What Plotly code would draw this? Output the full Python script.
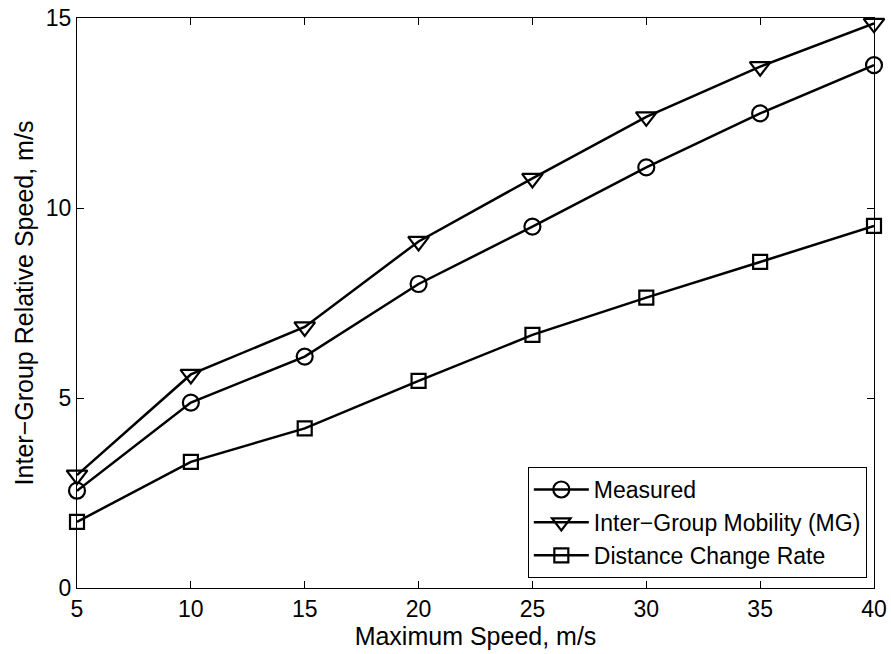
import plotly.graph_objects as go

speeds = [5, 10, 15, 20, 25, 30, 35, 40]
measured = [2.56, 4.88, 6.09, 8.0, 9.51, 11.07, 12.49, 13.76]
mg_model = [2.97, 5.62, 6.87, 9.12, 10.78, 12.40, 13.72, 14.86]
dcr = [1.74, 3.32, 4.20, 5.45, 6.66, 7.64, 8.58, 9.53]

series = [
    ("Measured", measured, "circle-open", 16),
    ("Inter\u2212Group Mobility (MG)", mg_model, "triangle-down-open", 18),
    ("Distance Change Rate", dcr, "square-open", 14),
]

fig = go.Figure()
for name, vals, sym, sz in series:
    fig.add_trace(go.Scatter(
        x=speeds, y=vals, name=name, mode="lines+markers",
        line=dict(color="black", width=2.5),
        marker=dict(symbol=sym, size=sz, color="black", line=dict(width=2.2, color="black")),
        cliponaxis=False,
    ))

fam = "Liberation Sans, Arial, Helvetica, sans-serif"
font = dict(family=fam, size=23, color="black")
titlefont = dict(family=fam, size=25, color="black")
legfont = dict(family=fam, size=23, color="black")
axis_common = dict(
    showgrid=False, zeroline=False, showline=True, linecolor="black", linewidth=1,
    mirror="ticks", ticks="inside", ticklen=7, tickwidth=1, tickcolor="black",
    tickfont=font, automargin=False,
)
fig.update_layout(
    width=891, height=654,
    margin=dict(l=77, r=17, t=18, b=66),
    paper_bgcolor="white", plot_bgcolor="white",
    font=font,
    showlegend=True,
    legend=dict(
        x=0.991, y=0.0175, xanchor="right", yanchor="bottom",
        bgcolor="white", bordercolor="black", borderwidth=1,
        font=legfont, tracegroupgap=0, itemwidth=55,
    ),
    xaxis=dict(range=[5, 40], tickvals=[5, 10, 15, 20, 25, 30, 35, 40],
               title=dict(text="Maximum Speed, m/s", font=titlefont, standoff=0), **axis_common),
    yaxis=dict(range=[0, 15], tickvals=[0, 5, 10, 15],
               title=dict(text="Inter\u2212Group Relative Speed, m/s", font=titlefont, standoff=5), **axis_common),
)
fig.write_html("out.html")
